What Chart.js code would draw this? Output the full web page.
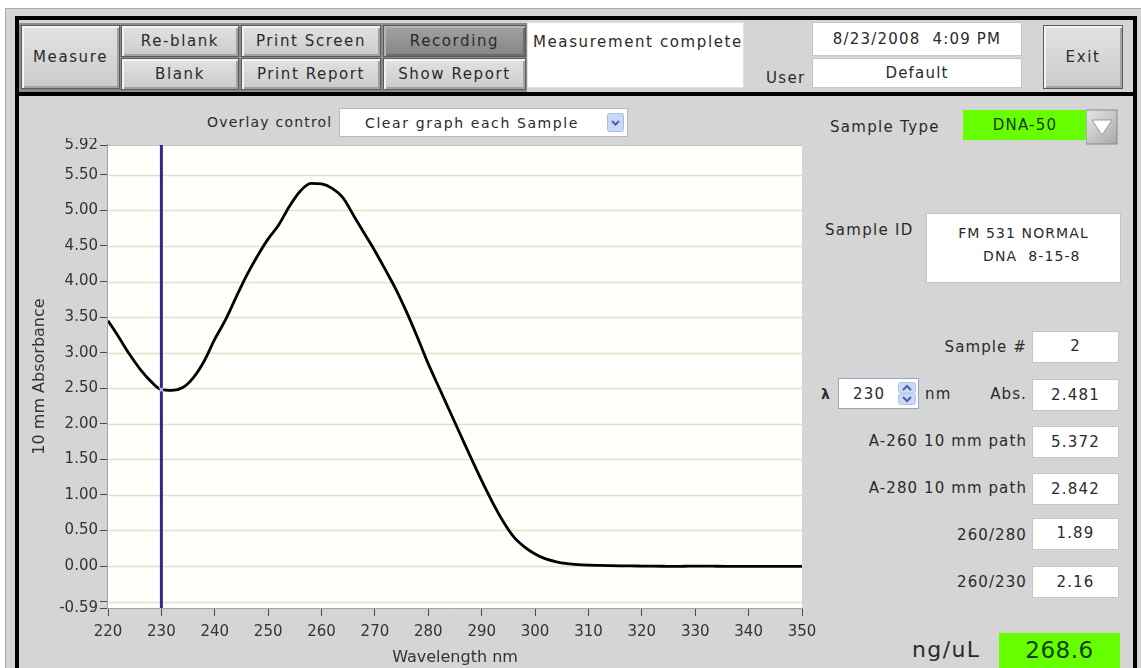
<!DOCTYPE html>
<html>
<head>
<meta charset="utf-8">
<title>Spectrum</title>
<script src="https://cdn.jsdelivr.net/npm/chart.js@4.4.1/dist/chart.umd.min.js"></script>
<style>
  body { margin: 0; width: 1141px; height: 668px; overflow: hidden; background: #fff; position: relative;
         font-family: "DejaVu Sans", sans-serif; color: #222; }
  .abs { position: absolute; box-sizing: border-box; }
  #frame { left: 5px; top: 8px; width: 1136px; height: 660px; background: #d5d5d5;
           border-top: 1px solid #a9a9a9; border-left: 1px solid #a9a9a9; }
  #blackFrame { left: 15px; top: 16px; width: 1122px; height: 720px; border: 4px solid #000; }
  #sep { left: 15px; top: 92px; width: 1122px; height: 4px; background: #000; }
  #toolbar { left: 19px; top: 23px; width: 508px; height: 69px; background: #8c8c8c; }
  .btn { position: absolute; box-sizing: border-box; display: flex; align-items: center; justify-content: center;
         background: linear-gradient(#e2e2e2, #cbcbcb); border: 1px solid #5c5c5c;
         box-shadow: inset 2px 2px 0 #f3f3f3, inset -2px -2px 0 #a2a2a2;
         font-size: 15px; letter-spacing: 1.6px; color: #2a2a2a; }
  .btn.dark { background: linear-gradient(#a2a2a2, #858585); box-shadow: inset 2px 2px 0 #b4b4b4, inset -2px -2px 0 #6c6c6c; }
  .box { position: absolute; box-sizing: border-box; background: #fff; border: 1px solid #c6c6c6;
         display: flex; align-items: center; justify-content: center; font-size: 15px; letter-spacing: 1.2px; color: #2a2a2a; }
  .lbl { position: absolute; font-size: 15px; letter-spacing: 1.3px; color: #2a2a2a; white-space: nowrap; line-height: 18px; }
  .rlbl { position: absolute; right: 114px; font-size: 15px; letter-spacing: 1.1px; color: #2a2a2a; white-space: nowrap; line-height: 18px; }
  .green { background: #66ff00; border: none; color: #1d3a12; }
</style>
</head>
<body>
<div id="frame" class="abs"></div>
<div id="blackFrame" class="abs"></div>
<div id="sep" class="abs"></div>

<!-- top toolbar -->
<div id="toolbar" class="abs"></div>
<div class="btn" style="left:21px;top:25px;width:99px;height:64px;">Measure</div>
<div class="btn" style="left:121px;top:25px;width:118px;height:32px;">Re-blank</div>
<div class="btn" style="left:121px;top:58px;width:118px;height:32px;">Blank</div>
<div class="btn" style="left:241px;top:25px;width:140px;height:32px;">Print Screen</div>
<div class="btn" style="left:241px;top:58px;width:140px;height:32px;">Print Report</div>
<div class="btn dark" style="left:383px;top:25px;width:143px;height:32px;">Recording</div>
<div class="btn" style="left:383px;top:58px;width:143px;height:32px;">Show Report</div>
<div class="box" style="left:527px;top:22px;width:217px;height:66px;align-items:flex-start;justify-content:flex-start;padding:10px 0 0 5px;letter-spacing:1.6px;border-color:#e0e0e0;">Measurement complete</div>
<div class="lbl" style="left:766px;top:69px;">User</div>
<div class="box" style="left:812px;top:22px;width:210px;height:34px;">8/23/2008&nbsp; 4:09 PM</div>
<div class="box" style="left:812px;top:58px;width:210px;height:30px;">Default</div>
<div class="btn" style="left:1043px;top:25px;width:80px;height:64px;">Exit</div>

<!-- overlay selector above the plot -->
<div class="lbl" style="left:207px;top:113px;font-size:14px;letter-spacing:1.2px;">Overlay control</div>
<div class="box" style="left:339px;top:108px;width:289px;height:29px;justify-content:flex-start;padding-left:25px;font-size:14px;letter-spacing:1.6px;border-color:#b8b8b8;">Clear graph each Sample</div>
<svg class="abs" style="left:607px;top:113px;" width="17" height="19">
  <rect x="0.5" y="0.5" width="16" height="18" rx="2" fill="#c9d8f6" stroke="#aebee0"/>
  <polyline points="5,8 8.5,11.5 12,8" fill="none" stroke="#4d61a8" stroke-width="2"/>
</svg>

<!-- right side readouts -->
<div class="lbl" style="left:830px;top:118px;">Sample Type</div>
<div class="box green" style="left:963px;top:110px;width:124px;height:30px;">DNA-50</div>
<svg class="abs" style="left:1086px;top:108px;" width="32" height="38">
  <defs><linearGradient id="ag" x1="0" y1="0" x2="1" y2="1"><stop offset="0" stop-color="#e6e6e6"/><stop offset="1" stop-color="#a9a9a9"/></linearGradient></defs>
  <rect x="0" y="2" width="31" height="34" fill="url(#ag)" stroke="#8a8a8a"/>
  <polygon points="6,12 26,12 16,27" fill="#fff" stroke="#9a9a9a"/>
</svg>

<div class="lbl" style="left:825px;top:221px;">Sample ID</div>
<div class="box" style="left:926px;top:213px;width:195px;height:70px;flex-direction:column;justify-content:flex-start;padding-top:8px;line-height:23px;font-size:14px;letter-spacing:1.1px;">
  <div>FM 531 NORMAL</div><div>&nbsp;&nbsp;&nbsp;DNA&nbsp; 8-15-8</div>
</div>

<div class="rlbl" style="top:338px;">Sample #</div>
<div class="box" style="left:1032px;top:331px;width:87px;height:32px;align-items:flex-start;padding-top:5px;">2</div>

<div class="lbl" style="left:821px;top:385px;font-weight:bold;font-size:14px;">&lambda;</div>
<div class="box" style="left:838px;top:378px;width:81px;height:31px;justify-content:flex-start;padding-left:14px;border-color:#8ea7c9;">230</div>
<svg class="abs" style="left:898px;top:382px;" width="18" height="23">
  <rect x="0.5" y="0.5" width="17" height="10.5" rx="2" fill="#cbdaf6" stroke="#b3c3e3"/>
  <rect x="0.5" y="12" width="17" height="10.5" rx="2" fill="#cbdaf6" stroke="#b3c3e3"/>
  <polyline points="5,8 9,4 13,8" fill="none" stroke="#4d61a8" stroke-width="2"/>
  <polyline points="5,15 9,19 13,15" fill="none" stroke="#4d61a8" stroke-width="2"/>
</svg>
<div class="lbl" style="left:925px;top:385px;">nm</div>
<div class="rlbl" style="top:385px;">Abs.</div>
<div class="box" style="left:1032px;top:379px;width:87px;height:32px;">2.481</div>

<div class="rlbl" style="top:432px;">A-260 10 mm path</div>
<div class="box" style="left:1032px;top:426px;width:87px;height:32px;">5.372</div>
<div class="rlbl" style="top:479px;">A-280 10 mm path</div>
<div class="box" style="left:1032px;top:473px;width:87px;height:32px;">2.842</div>
<div class="rlbl" style="top:526px;">260/280</div>
<div class="box" style="left:1032px;top:518px;width:87px;height:32px;align-items:flex-start;padding-top:5px;">1.89</div>
<div class="rlbl" style="top:573px;">260/230</div>
<div class="box" style="left:1032px;top:566px;width:87px;height:32px;">2.16</div>

<div class="lbl" style="left:912px;top:637px;font-size:22px;line-height:26px;letter-spacing:1.4px;">ng/uL</div>
<div class="box green" style="left:999px;top:633px;width:121px;height:40px;align-items:flex-start;padding-top:4px;font-size:23px;letter-spacing:0.5px;color:#10400f;">268.6</div>

<!-- spectrum plot -->
<canvas id="spectrum" class="abs" style="left:20px;top:138px;" width="800" height="530"></canvas>

<script>
// wavelength grid (nm) and measured absorbance, 10 mm path
const wavelengths = [
  220, 222, 224, 226, 228, 230, 232, 234, 236, 238,
  240, 242, 244, 246, 248, 250, 252, 254, 256, 258,
  260, 262, 264, 266, 268, 270, 272, 274, 276, 278,
  280, 282, 284, 286, 288, 290, 292, 294, 296, 298,
  300, 302, 304, 306, 308, 310, 312, 314, 316, 318,
  320, 322, 324, 326, 328, 330, 332, 334, 336, 338,
  340, 342, 344, 346, 348, 350
];
const absorbance = [
  3.45, 3.22, 2.98, 2.77, 2.60, 2.481, 2.47, 2.51, 2.65, 2.88,
  3.19, 3.46, 3.78, 4.09, 4.36, 4.60, 4.80, 5.06, 5.27, 5.38,
  5.372, 5.31, 5.18, 4.93, 4.68, 4.43, 4.16, 3.88, 3.56, 3.21,
  2.842, 2.51, 2.18, 1.85, 1.52, 1.20, 0.90, 0.63, 0.41, 0.27,
  0.17, 0.10, 0.06, 0.035, 0.02, 0.012, 0.008, 0.005, 0.003, 0.002,
  0.000, -0.002, -0.003, -0.004, -0.003, -0.002, -0.002, -0.003, -0.004, -0.005,
  -0.005, -0.006, -0.006, -0.005, -0.006, -0.006
];

// cursor position (λ spinner) and the reading under it
const cursorWavelength = 230;
const cursorAbs = 2.481;

// axis ticks
const xTickValues = [220, 230, 240, 250, 260, 270, 280, 290, 300, 310, 320, 330, 340, 350];
const yTickValues = [-0.59, -0.5, 0, 0.5, 1, 1.5, 2, 2.5, 3, 3.5, 4, 4.5, 5, 5.5, 5.92];
const yTickLabels = ["-0.59", "", "0.00", "0.50", "1.00", "1.50", "2.00", "2.50", "3.00", "3.50",
                     "4.00", "4.50", "5.00", "5.50", "5.92"];
const yMin = yTickValues[0];
const yMax = yTickValues[yTickValues.length - 1];

const plotFrame = {
  id: "plotFrame",
  beforeDatasetsDraw(chart) {
    const { ctx, chartArea: a } = chart;
    ctx.save();
    ctx.fillStyle = "#fffffc";
    ctx.fillRect(a.left, a.top, a.right - a.left, a.bottom - a.top);
    // horizontal grid on top of the fill
    const y = chart.scales.y;
    ctx.strokeStyle = "#e1e1c3";
    ctx.lineWidth = 1.5;
    y.ticks.forEach(t => {
      if (t.value === yMin || t.value === yMax) return;
      const py = Math.round(y.getPixelForValue(t.value)) + 0.5;
      ctx.beginPath();
      ctx.moveTo(a.left, py);
      ctx.lineTo(a.right, py);
      ctx.stroke();
    });
    ctx.strokeStyle = "#c2c2c2";
    ctx.lineWidth = 1;
    ctx.beginPath();
    ctx.moveTo(a.left, a.top + 0.5);
    ctx.lineTo(a.right, a.top + 0.5);
    ctx.stroke();
    ctx.restore();
  }
};

new Chart(document.getElementById("spectrum"), {
  type: "line",
  data: {
    datasets: [
      {
        label: "cursor",
        data: [{ x: cursorWavelength, y: yMin }, { x: cursorWavelength, y: yMax }],
        borderColor: "#32288c",
        borderWidth: 3,
        pointRadius: 0,
        order: 0,
      },
      {
        label: "cursor point",
        data: [{ x: cursorWavelength, y: cursorAbs }],
        showLine: false,
        pointStyle: "crossRot",
        pointRadius: 3,
        borderColor: "#b9cdf5",
        borderWidth: 1.5,
        order: -1,
      },
      {
        label: "sample",
        data: wavelengths.map((w, i) => ({ x: w, y: absorbance[i] })),
        borderColor: "#000",
        borderWidth: 2.8,
        pointRadius: 0,
        cubicInterpolationMode: "monotone",
        order: 1,
      },
    ],
  },
  options: {
    responsive: false,
    animation: false,
    layout: { padding: { top: 7, right: 18, bottom: 0, left: 0 } },
    plugins: { legend: { display: false }, tooltip: { enabled: false } },
    scales: {
      x: {
        type: "linear",
        min: 220,
        max: 350,
        afterBuildTicks: s => { s.ticks = xTickValues.map(v => ({ value: v })); },
        afterFit: s => { s.height = 60; s.paddingLeft = 0; s.paddingRight = 0; },
        ticks: { autoSkip: false, maxRotation: 0, padding: 7, color: "#333",
                 font: { family: "DejaVu Sans", size: 15 } },
        grid: { drawOnChartArea: false, drawTicks: true, tickLength: 8, tickColor: "#4a4a4a" },
        border: { display: true, color: "#a3a3a3" },
        title: { display: true, text: "Wavelength nm", color: "#333",
                 font: { family: "DejaVu Sans", size: 16 }, padding: { top: 0, bottom: 1 } },
      },
      y: {
        type: "linear",
        min: yMin,
        max: yMax,
        afterBuildTicks: s => { s.ticks = yTickValues.map(v => ({ value: v })); },
        afterFit: s => { s.width = 88; s.paddingTop = 0; s.paddingBottom = 0; },
        ticks: { autoSkip: false, padding: 2, color: "#333",
                 font: { family: "DejaVu Sans", size: 15 },
                 callback: (v, i) => yTickLabels[i] },
        grid: { drawOnChartArea: false, drawTicks: true, tickLength: 8, tickColor: "#4a4a4a" },
        border: { display: true, color: "#a3a3a3", width: 1.5 },
        title: { display: true, text: "10 mm Absorbance", color: "#333",
                 font: { family: "DejaVu Sans", size: 16 }, padding: { top: 10, bottom: 0 } },
      },
    },
  },
  plugins: [plotFrame],
});
</script>
</body>
</html>
